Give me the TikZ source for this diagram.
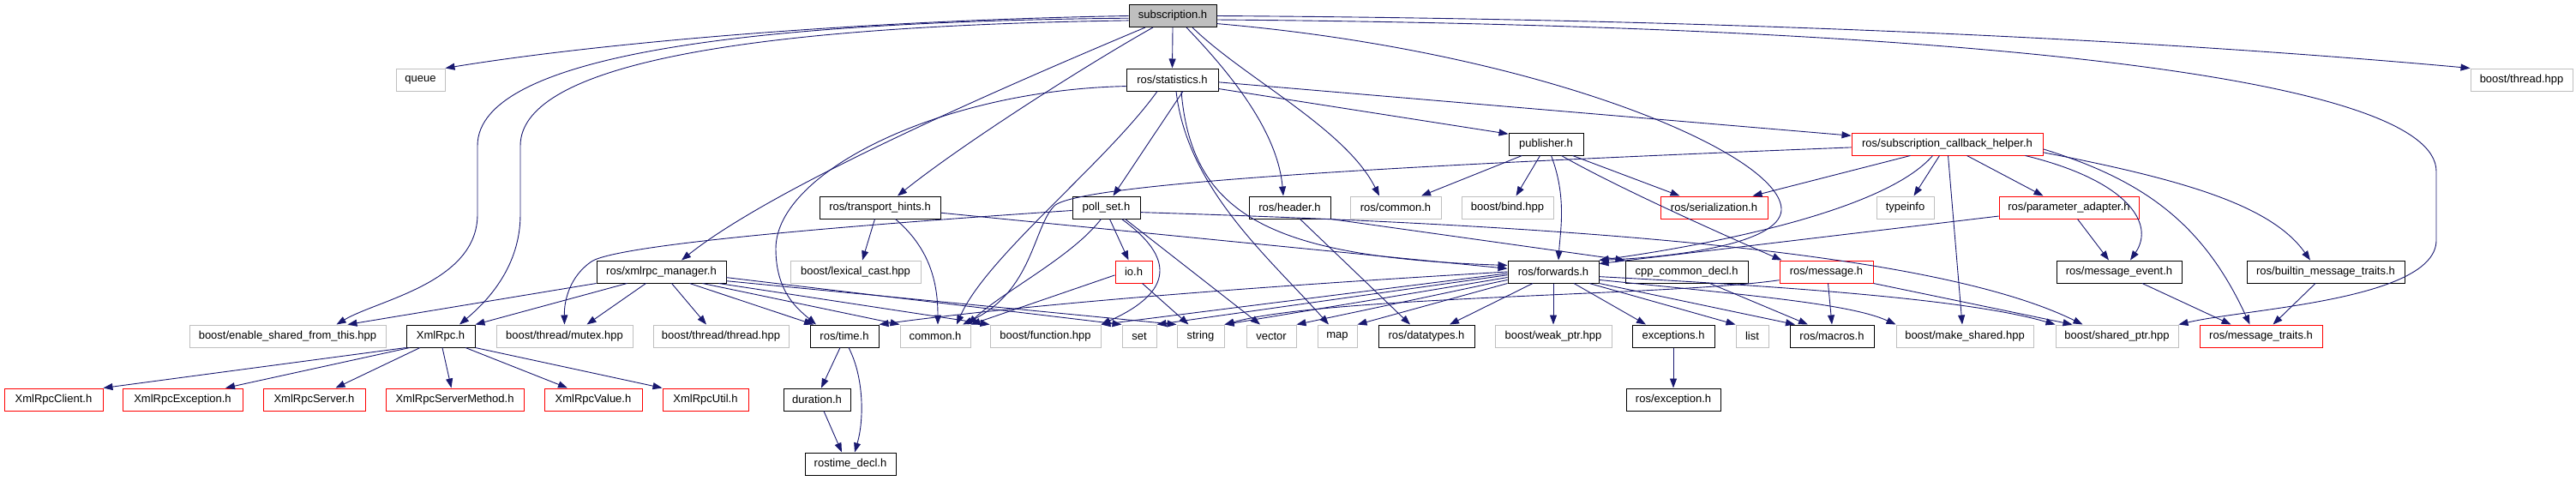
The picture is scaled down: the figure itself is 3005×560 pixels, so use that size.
\documentclass[tikz,border=0pt]{standalone}
\usepackage{fontspec}
\setmainfont{Liberation Sans}
\usetikzlibrary{arrows.meta}
\definecolor{edgeblue}{HTML}{191970}
\definecolor{greyb}{HTML}{BFBFBF}
\begin{document}
\begin{tikzpicture}[x=1pt,y=-1pt,
  box/.style={draw,line width=1pt,minimum height=26pt,inner sep=0pt,fill=white,
    font=\fontsize{13}{15}\selectfont,anchor=center},
  wd/.style={minimum width=#1pt},
  doc/.style={box,draw=black},
  ext/.style={box,draw=greyb},
  trunc/.style={box,draw=red},
  root/.style={box,draw=black,fill=greyb},
  edge/.style={draw=edgeblue,line width=0.9pt,-{Triangle[length=11pt,width=8pt]}},
]
\useasboundingbox (0,0) rectangle (3005,560);

% row 1
\node[root,wd=102] (sub) at (1368,18.5) {subscription.h};
% row 2
\node[ext,wd=57] (queue) at (490.5,93) {queue};
\node[doc,wd=107] (stat) at (1367.5,93) {ros/statistics.h};
\node[ext,wd=119] (thrhpp) at (2941.5,93) {boost/thread.hpp};
% row 3
\node[doc,wd=87] (pub) at (1803.5,168) {publisher.h};
\node[trunc,wd=223] (cb) at (2271.5,168) {ros/subscription\_callback\_helper.h};
% row 4
\node[doc,wd=141] (th) at (1026.5,242) {ros/transport\_hints.h};
\node[doc,wd=79] (ps) at (1290.5,242) {poll\_set.h};
\node[doc,wd=95] (header) at (1504.5,242) {ros/header.h};
\node[ext,wd=106] (roscommon) at (1628,242) {ros/common.h};
\node[ext,wd=107] (bind) at (1758.5,242) {boost/bind.hpp};
\node[trunc,wd=125] (ser) at (1999.5,242) {ros/serialization.h};
\node[ext,wd=67] (typeinfo) at (2222.5,242) {typeinfo};
\node[trunc,wd=163] (param) at (2413.5,242) {ros/parameter\_adapter.h};
% row 5
\node[doc,wd=151] (xmlmgr) at (771.5,317) {ros/xmlrpc\_manager.h};
\node[ext,wd=152] (lexical) at (998,317) {boost/lexical\_cast.hpp};
\node[trunc,wd=43] (io) at (1322.5,317) {io.h};
\node[doc,wd=106] (fw) at (1812,317) {ros/forwards.h};
\node[doc,wd=143] (cppdecl) at (1967.5,317) {cpp\_common\_decl.h};
\node[trunc,wd=109] (message) at (2130.5,317) {ros/message.h};
\node[doc,wd=146] (msgevent) at (2472,317) {ros/message\_event.h};
\node[doc,wd=184] (builtin) at (2713,317) {ros/builtin\_message\_traits.h};
% row 6
\node[ext,wd=229] (enable) at (335.5,392) {boost/enable\_shared\_from\_this.hpp};
\node[doc,wd=80] (xmlrpc) at (514,392) {XmlRpc.h};
\node[ext,wd=159] (mutex) at (658.5,392) {boost/thread/mutex.hpp};
\node[ext,wd=158] (thrthr) at (841,392) {boost/thread/thread.hpp};
\node[doc,wd=80] (time) at (985,392) {ros/time.h};
\node[ext,wd=82] (common) at (1091,392) {common.h};
\node[ext,wd=129] (function) at (1219.5,392) {boost/function.hpp};
\node[ext,wd=40] (set) at (1329,392) {set};
\node[ext,wd=55] (string) at (1400.5,392) {string};
\node[ext,wd=58] (vector) at (1483,392) {vector};
\node[ext,wd=46] (map) at (1560,392) {map};
\node[doc,wd=112] (datatypes) at (1664,392) {ros/datatypes.h};
\node[ext,wd=136] (weak) at (1812,392) {boost/weak\_ptr.hpp};
\node[doc,wd=96] (exceptions) at (1952,392) {exceptions.h};
\node[ext,wd=38] (list) at (2044,392) {list};
\node[doc,wd=98] (macros) at (2137,392) {ros/macros.h};
\node[ext,wd=160] (makeshared) at (2292,392) {boost/make\_shared.hpp};
\node[ext,wd=143] (sharedptr) at (2469.5,392) {boost/shared\_ptr.hpp};
\node[trunc,wd=143] (msgtraits) at (2637.5,392) {ros/message\_traits.h};
% row 7
\node[trunc,wd=115] (client) at (62.5,466) {XmlRpcClient.h};
\node[trunc,wd=140] (exc) at (213,466) {XmlRpcException.h};
\node[trunc,wd=119] (server) at (366.5,466) {XmlRpcServer.h};
\node[trunc,wd=161] (sm) at (530.5,466) {XmlRpcServerMethod.h};
\node[trunc,wd=114] (value) at (692,466) {XmlRpcValue.h};
\node[trunc,wd=100] (util) at (823,466) {XmlRpcUtil.h};
\node[doc,wd=78] (duration) at (953,466) {duration.h};
\node[doc,wd=110] (exception) at (1952,466) {ros/exception.h};
% row 8
\node[doc,wd=106] (rostime) at (992,541) {rostime\_decl.h};

% ---- edges: subscription.h
\draw[edge] (sub.west) .. controls (1000,24) and (700,50) .. (queue.north east);
\draw[edge] (sub.south) -- (stat.north);
\draw[edge] (sub.east) .. controls (2000,22) and (2500,45) .. (thrhpp.north west);
\draw[edge] (sub.183) .. controls (900,25) and (557,60) .. (557,170) -- (557,250) .. controls (557,330) and (440,350) .. ([xshift=57pt]enable.north);
\draw[edge] (sub.186) .. controls (900,30) and (607,70) .. (607,170) -- (607,250) .. controls (607,310) and (570,350) .. ([xshift=22pt]xmlrpc.north);
\draw[edge] ([xshift=-32pt]sub.south) .. controls (1150,110) and (900,220) .. ([xshift=23.5pt]xmlmgr.north);
\draw[edge] ([xshift=-23pt]sub.south) .. controls (1260,80) and (1120,170) .. ([xshift=20.5pt]th.north);
\draw[edge] ([xshift=16pt]sub.south) .. controls (1430,80) and (1490,150) .. ([xshift=-7.5pt]header.north);
\draw[edge] ([xshift=23pt]sub.south) .. controls (1450,90) and (1570,150) .. ([xshift=-19pt]roscommon.north);
\draw[edge] (sub.350) .. controls (1800,60) and (2080,180) .. (2078,245) .. controls (2076,285) and (1950,300) .. (fw.north east);
\draw[edge] (sub.355) .. controls (2300,30) and (2842,90) .. (2842,200) -- (2842,280) .. controls (2842,350) and (2620,360) .. (sharedptr.north east);

% ---- ros/statistics.h
\draw[edge] (stat.188) .. controls (1100,105) and (905,200) .. (905,290) .. controls (905,340) and (930,360) .. ([xshift=-33pt]time.north);
\draw[edge] ([xshift=-17.5pt]stat.south) .. controls (1290,190) and (1150,300) .. ([xshift=25pt]common.north);
\draw[edge] ([xshift=12.5pt]stat.south) -- ([xshift=8pt]ps.north);
\draw[edge] ([xshift=4.5pt]stat.south) .. controls (1385,220) and (1480,300) .. ([xshift=-10pt]map.north);
\draw[edge] ([xshift=10.5pt]stat.south) .. controls (1390,250) and (1480,300) .. (fw.172);
\draw[edge] (stat.349) -- (pub.165);
\draw[edge] (stat.357) -- (cb.175);

% ---- ros/transport_hints.h
\draw[edge] ([xshift=-6pt]th.south) -- ([xshift=8pt]lexical.north);
\draw[edge] ([xshift=18pt]th.south) .. controls (1085,290) and (1094,330) .. ([xshift=3pt]common.north);
\draw[edge] (th.355) -- (fw.176);

% ---- poll_set.h
\draw[edge] (ps.185) .. controls (1000,262) and (720,285) .. (690,305) .. controls (665,322) and (658,350) .. (mutex.north);
\draw[edge] ([xshift=4pt]ps.south) -- ([xshift=-6pt]io.north);
\draw[edge] ([xshift=-6pt]ps.south) .. controls (1250,300) and (1170,340) .. ([xshift=38pt]common.north);
\draw[edge] ([xshift=18pt]ps.south) .. controls (1370,300) and (1370,340) .. (function.north east);
\draw[edge] ([xshift=22pt]ps.south) -- ([xshift=-13pt]vector.north);
\draw[edge] (ps.352) .. controls (1800,262) and (2250,290) .. ([xshift=-40pt]sharedptr.north);

% ---- io.h
\draw[edge] (io.190) -- (common.north east);
\draw[edge] ([xshift=10pt]io.south) -- ([xshift=-14pt]string.north);

% ---- ros/xmlrpc_manager.h
\draw[edge] (xmlmgr.south west) -- ([xshift=70pt]enable.north);
\draw[edge] ([xshift=-40pt]xmlmgr.south) -- (xmlrpc.north east);
\draw[edge] ([xshift=-18pt]xmlmgr.south) -- ([xshift=26pt]mutex.north);
\draw[edge] ([xshift=12pt]xmlmgr.south) -- ([xshift=-17pt]thrthr.north);
\draw[edge] ([xshift=33pt]xmlmgr.south) -- ([xshift=-36pt]time.north);
\draw[edge] ([xshift=48pt]xmlmgr.south) -- (common.north west);
\draw[edge] ([xshift=67pt]xmlmgr.south) -- (function.north west);
\draw[edge] (xmlmgr.355) -- (set.north west);
\draw[edge] (xmlmgr.352) -- (string.north west);

% ---- ros/forwards.h
\draw[edge] (fw.south) -- (weak.north);
\draw[edge] ([xshift=-24pt]fw.south) -- ([xshift=27pt]datatypes.north);
\draw[edge] ([xshift=24pt]fw.south) -- ([xshift=-32pt]exceptions.north);
\draw[edge] ([xshift=42pt]fw.south) -- (list.north west);
\draw[edge] (fw.south east) -- ([xshift=-43pt]macros.north);
\draw[edge] (fw.350) .. controls (2050,345) and (2160,355) .. (makeshared.north west);
\draw[edge] (fw.354) .. controls (2100,335) and (2300,350) .. (sharedptr.north west);
\draw[edge] (fw.south west) -- (map.north east);
\draw[edge] (fw.190) -- (vector.north east);
\draw[edge] (fw.187) -- (string.north east);
\draw[edge] (fw.184) -- (set.north east);
\draw[edge] (fw.182) -- (function.north east);
\draw[edge] (fw.west) .. controls (1450,335) and (1200,355) .. (time.north east);

% ---- ros/message.h, cpp_common_decl.h, exceptions.h
\draw[edge] ([xshift=2pt]message.south) -- (macros.north);
\draw[edge] (message.190) .. controls (1950,345) and (1550,345) .. (string.north east);
\draw[edge] (message.south east) -- ([xshift=-52pt]sharedptr.north);
\draw[edge] ([xshift=27pt]cppdecl.south) -- ([xshift=-28pt]macros.north);
\draw[edge] (exceptions.south) -- (exception.north);

% ---- ros/header.h
\draw[edge] ([xshift=12pt]header.south) -- ([xshift=-19pt]datatypes.north);
\draw[edge] (header.south east) -- (cppdecl.north west);

% ---- publisher.h
\draw[edge] ([xshift=-28pt]pub.south) -- ([xshift=30pt]roscommon.north);
\draw[edge] ([xshift=-7pt]pub.south) -- ([xshift=10pt]bind.north);
\draw[edge] ([xshift=6pt]pub.south) .. controls (1828,230) and (1820,270) .. ([xshift=6pt]fw.north);
\draw[edge] ([xshift=31pt]pub.south) -- ([xshift=-40pt]ser.north);
\draw[edge] ([xshift=18pt]pub.south) .. controls (1880,215) and (1990,265) .. ([xshift=-52pt]message.north);

% ---- ros/subscription_callback_helper.h
\draw[edge] (cb.182) .. controls (1700,190) and (1260,212) .. (1230,240) .. controls (1205,265) and (1205,340) .. ([xshift=32pt]common.north);
\draw[edge] ([xshift=-17pt]cb.south) .. controls (2200,245) and (2000,285) .. (fw.north east);
\draw[edge] ([xshift=-9pt]cb.south) -- ([xshift=10pt]typeinfo.north);
\draw[edge] ([xshift=1pt]cb.south) -- ([xshift=-3pt]makeshared.north);
\draw[edge] ([xshift=23pt]cb.south) -- ([xshift=-30pt]param.north);
\draw[edge] ([xshift=-43pt]cb.south) -- ([xshift=45pt]ser.north);
\draw[edge] ([xshift=91pt]cb.south) .. controls (2480,210) and (2515,260) .. ([xshift=13pt]msgevent.north);
\draw[edge] (cb.357) .. controls (2500,210) and (2570,260) .. ([xshift=-13pt]msgtraits.north);
\draw[edge] (cb.355) .. controls (2550,210) and (2650,240) .. ([xshift=-18pt]builtin.north);

% ---- ros/parameter_adapter.h, message_event, builtin
\draw[edge] (param.187) -- (fw.10);
\draw[edge] ([xshift=10pt]param.south) -- ([xshift=-12pt]msgevent.north);
\draw[edge] ([xshift=27pt]msgevent.south) -- ([xshift=-35pt]msgtraits.north);
\draw[edge] ([xshift=-12pt]builtin.south) -- ([xshift=14pt]msgtraits.north);

% ---- XmlRpc.h
\draw[edge] (xmlrpc.south west) -- (client.north east);
\draw[edge] ([xshift=-36pt]xmlrpc.south) -- ([xshift=50pt]exc.north);
\draw[edge] ([xshift=-24pt]xmlrpc.south) -- ([xshift=25pt]server.north);
\draw[edge] ([xshift=2pt]xmlrpc.south) -- ([xshift=-4pt]sm.north);
\draw[edge] ([xshift=29pt]xmlrpc.south) -- ([xshift=-30pt]value.north);
\draw[edge] (xmlrpc.south east) -- (util.north west);

% ---- ros/time.h, duration.h
\draw[edge] ([xshift=-5pt]time.south) -- ([xshift=5pt]duration.north);
\draw[edge] ([xshift=5pt]time.south) .. controls (1008,440) and (1008,490) .. ([xshift=5pt]rostime.north);
\draw[edge] ([xshift=8pt]duration.south) -- ([xshift=-10pt]rostime.north);
\end{tikzpicture}
\end{document}
